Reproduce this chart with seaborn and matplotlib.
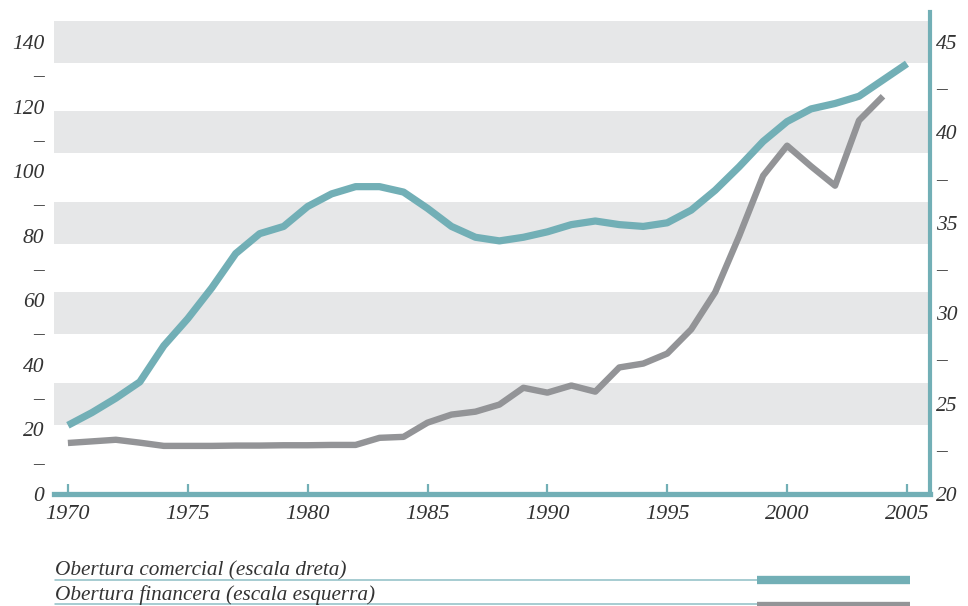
"""Obertura comercial i financera, 1970-2005."""
import matplotlib
matplotlib.use("Agg")
import matplotlib.pyplot as plt
from matplotlib.lines import Line2D
import pandas as pd
import seaborn as sns

# --- data ------------------------------------------------------------------
years_comercial = list(range(1970, 2006))
comercial = [23.8, 24.5, 25.3, 26.2, 28.2, 29.7, 31.4, 33.3, 34.4, 34.8,
             35.9, 36.6, 37.0, 37.0, 36.7, 35.8, 34.8, 34.2, 34.0, 34.2,
             34.5, 34.9, 35.1, 34.9, 34.8, 35.0, 35.7, 36.8, 38.1, 39.5,
             40.6, 41.3, 41.6, 42.0, 42.9, 43.8]

years_financera = list(range(1970, 2005))
financera = [15.8, 16.3, 16.8, 15.9, 14.9, 14.9, 14.9, 15.0, 15.0, 15.1,
             15.1, 15.2, 15.2, 17.4, 17.7, 22.1, 24.6, 25.5, 27.7, 32.9,
             31.4, 33.6, 31.7, 39.2, 40.4, 43.5, 51.0, 62.5, 79.9, 98.6,
             107.9, 101.5, 95.5, 115.7, 123.2]

x_ticks = [1970, 1975, 1980, 1985, 1990, 1995, 2000, 2005]
left_ticks = list(range(0, 150, 10))
right_ticks = [20 + 2.5 * i for i in range(11)]
band_centres = [28, 56, 84, 112, 140]  # left-scale units

label_comercial = "Obertura comercial (escala dreta)"
label_financera = "Obertura financera (escala esquerra)"

TEAL = "#72afb6"
GREY = "#939497"
BAND = "#e6e7e8"
TEXT = "#333333"

sns.set_style("white")
plt.rcParams["font.family"] = ["Liberation Serif", "DejaVu Serif"]
plt.rcParams["font.style"] = "italic"

df_c = pd.DataFrame({"year": years_comercial, "value": comercial})
df_f = pd.DataFrame({"year": years_financera, "value": financera})

fig = plt.figure(figsize=(9.68, 6.06), dpi=100)
ax = fig.add_axes([54 / 968, 1 - 494 / 606, (929.5 - 54) / 968, (494 - 12) / 606])
ax2 = ax.twinx()

# horizontal grey bands
for c in band_centres:
    ax.axhspan(c - 6.5, c + 6.5, color=BAND, lw=0, zorder=0)

sns.lineplot(data=df_f, x="year", y="value", ax=ax, color=GREY, lw=4.6,
             solid_capstyle="butt", solid_joinstyle="round", zorder=3)
sns.lineplot(data=df_c, x="year", y="value", ax=ax2, color=TEAL, lw=5.2,
             solid_capstyle="butt", solid_joinstyle="round", zorder=3)

ax.set_xlim(1969.42, 2005.94)
ax.set_ylim(0, 149.3)
ax2.set_ylim(20, 46.66)
for a in (ax, ax2):
    a.set_xlabel("")
    a.set_ylabel("")

# x axis
ax.set_xticks(x_ticks)
ax.set_xticklabels([str(y) for y in x_ticks])
ax.tick_params(axis="x", bottom=True, direction="in", length=7.5, width=1.6,
               color=TEAL, labelsize=16, labelcolor=TEXT, pad=8)
ax2.tick_params(axis="x", bottom=False, top=False)

# left scale
ax.set_yticks(left_ticks)
ax.set_yticklabels([str(v) if v % 20 == 0 else "–" for v in left_ticks])
ax.tick_params(axis="y", left=False, length=0, labelsize=15.5,
               labelcolor=TEXT, pad=7)

# right scale
ax2.set_yticks(right_ticks)
ax2.set_yticklabels([f"{v:g}" if v % 5 == 0 else "–" for v in right_ticks])
ax2.tick_params(axis="y", right=False, length=0, labelsize=15.5,
                labelcolor=TEXT, pad=5)

for s in ["left", "top", "right"]:
    ax.spines[s].set_visible(False)
for s in ["left", "top", "bottom"]:
    ax2.spines[s].set_visible(False)
ax.spines["bottom"].set_color(TEAL)
ax.spines["bottom"].set_linewidth(3.8)
ax.spines["bottom"].set_capstyle("projecting")
ax2.spines["right"].set_color(TEAL)
ax2.spines["right"].set_linewidth(3.0)
ax2.spines["right"].set_capstyle("projecting")

# legend below the chart
x0, xm, x1 = 55 / 968, 757 / 968, 910 / 968
fig.text(x0, 1 - 575 / 606, label_comercial, fontsize=15.3, color=TEXT, va="baseline")
fig.text(x0, 1 - 600 / 606, label_financera, fontsize=15.3, color=TEXT, va="baseline")
fig.add_artist(Line2D([x0, xm], [1 - 580 / 606] * 2, transform=fig.transFigure,
                      color=TEAL, lw=1.1, alpha=0.8))
fig.add_artist(Line2D([xm, x1], [1 - 580 / 606] * 2, transform=fig.transFigure,
                      color=TEAL, lw=6, solid_capstyle="butt"))
fig.add_artist(Line2D([x0, xm], [1 - 604 / 606] * 2, transform=fig.transFigure,
                      color=TEAL, lw=1.1, alpha=0.8))
fig.add_artist(Line2D([xm, x1], [0.0, 0.0], transform=fig.transFigure,
                      color=GREY, lw=6, solid_capstyle="butt"))

fig.savefig("out.png", dpi=100)
plt.close(fig)
